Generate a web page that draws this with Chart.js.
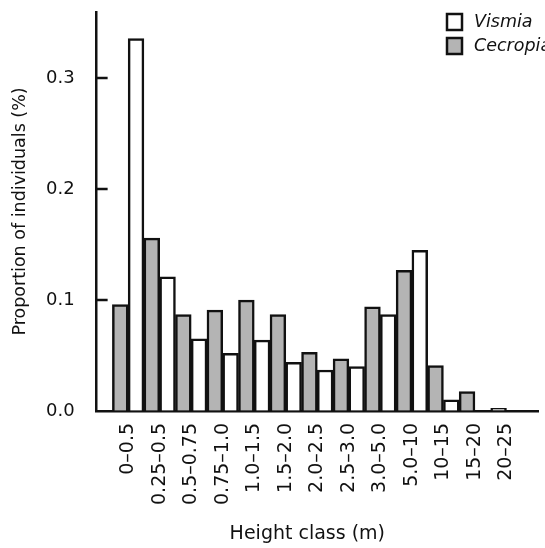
<!DOCTYPE html>
<html>
<head>
<meta charset="utf-8">
<script src="https://cdn.jsdelivr.net/npm/chart.js@4/dist/chart.umd.min.js"></script>
<style>
  body { margin: 0; background: #fff; }
  #wrap { width: 545px; height: 548px; }
</style>
</head>
<body>
<div id="wrap"><canvas id="chart" width="545" height="548"></canvas></div>
<script>
// height classes (m)
const heightClasses = ["0–0.5", "0.25–0.5", "0.5–0.75", "0.75–1.0", "1.0–1.5", "1.5–2.0",
  "2.0–2.5", "2.5–3.0", "3.0–5.0", "5.0–10", "10–15", "15–20", "20–25"];
// proportion of individuals per class
const vismia = [0.336, 0.121, 0.065, 0.052, 0.064, 0.044, 0.037, 0.040, 0.087, 0.145, 0.010, 0, 0];
const cecropia = [0.096, 0.156, 0.087, 0.091, 0.100, 0.087, 0.053, 0.047, 0.094, 0.127, 0.041, 0.0175, 0.0025];
const yTicks = [0, 0.1, 0.2, 0.3];

const FONT = "'DejaVu Sans', sans-serif";
const INK = "#111";

// empty slot each side so the pairs sit half a class in from the axes
const labels = [""].concat(heightClasses, [""]);
const pad = (arr) => [null].concat(arr, [null]);

// no extra room for label overhang, axes run to the layout edges
const noOverhang = (scale) => {
  scale.paddingLeft = 0;
  scale.paddingRight = 0;
  scale.paddingTop = 0;
  scale.paddingBottom = 0;
};

// legend top right (Vismia first), inward y ticks, x title
const extras = {
  id: "extras",
  afterDraw(chart) {
    const ctx = chart.ctx;
    const y = chart.scales.y;
    const area = chart.chartArea;
    ctx.save();

    // tick marks point into the plot
    ctx.strokeStyle = INK;
    ctx.lineWidth = 2.5;
    y.ticks.forEach((t) => {
      if (t.value === 0) return;
      const py = Math.round(y.getPixelForValue(t.value));
      ctx.beginPath();
      ctx.moveTo(area.left, py);
      ctx.lineTo(area.left + 11, py);
      ctx.stroke();
    });

    ctx.fillStyle = INK;
    ctx.font = "19px " + FONT;
    ctx.textAlign = "center";
    ctx.textBaseline = "middle";
    ctx.fillText("Height class (m)", (area.left + area.right) / 2 - 10, 534);

    const sets = chart.data.datasets.slice().reverse();
    sets.forEach((ds, i) => {
      const top = 14 + i * 24;
      ctx.fillStyle = ds.backgroundColor;
      ctx.fillRect(447, top, 15, 16);
      ctx.strokeStyle = INK;
      ctx.strokeRect(447, top, 15, 16);
      ctx.fillStyle = INK;
      ctx.font = "italic 17.5px " + FONT;
      ctx.textAlign = "left";
      ctx.fillText(ds.label, 474, top + 8.5);
    });
    ctx.restore();
  },
};

new Chart(document.getElementById("chart"), {
  type: "bar",
  data: {
    labels: labels,
    datasets: [
      {
        label: "Cecropia",
        data: pad(cecropia),
        backgroundColor: "#b4b4b4",
        borderColor: INK,
        borderWidth: 2.5,
        categoryPercentage: 1,
        barPercentage: 1,
      },
      {
        label: "Vismia",
        data: pad(vismia),
        backgroundColor: "#ffffff",
        borderColor: INK,
        borderWidth: 2.5,
        categoryPercentage: 1,
        barPercentage: 1,
      },
    ],
  },
  options: {
    responsive: false,
    animation: false,
    devicePixelRatio: 1,
    layout: { padding: { left: 0, right: 7, top: 12, bottom: 31 } },
    plugins: {
      legend: { display: false },
      tooltip: { enabled: false },
    },
    scales: {
      x: {
        offset: false,
        afterFit: noOverhang,
        grid: { drawOnChartArea: false, drawTicks: false },
        border: { display: true, color: INK, width: 2.5 },
        ticks: {
          autoSkip: false,
          minRotation: 90,
          maxRotation: 90,
          padding: 12,
          color: INK,
          font: { family: FONT, size: 19 },
        },
      },
      y: {
        min: 0,
        max: 0.36,
        afterFit: noOverhang,
        afterBuildTicks: (scale) => {
          scale.ticks = yTicks.map((v) => ({ value: v }));
        },
        grid: { drawOnChartArea: false, drawTicks: false },
        border: { display: true, color: INK, width: 2.5 },
        ticks: {
          padding: 22,
          color: INK,
          font: { family: FONT, size: 18 },
          callback: (v) => Number(v).toFixed(1),
        },
        title: {
          display: true,
          text: "Proportion of individuals (%)",
          color: INK,
          font: { family: FONT, size: 17.5 },
          padding: { top: 10, bottom: -7 },
        },
      },
    },
  },
  plugins: [extras],
});
</script>
</body>
</html>
